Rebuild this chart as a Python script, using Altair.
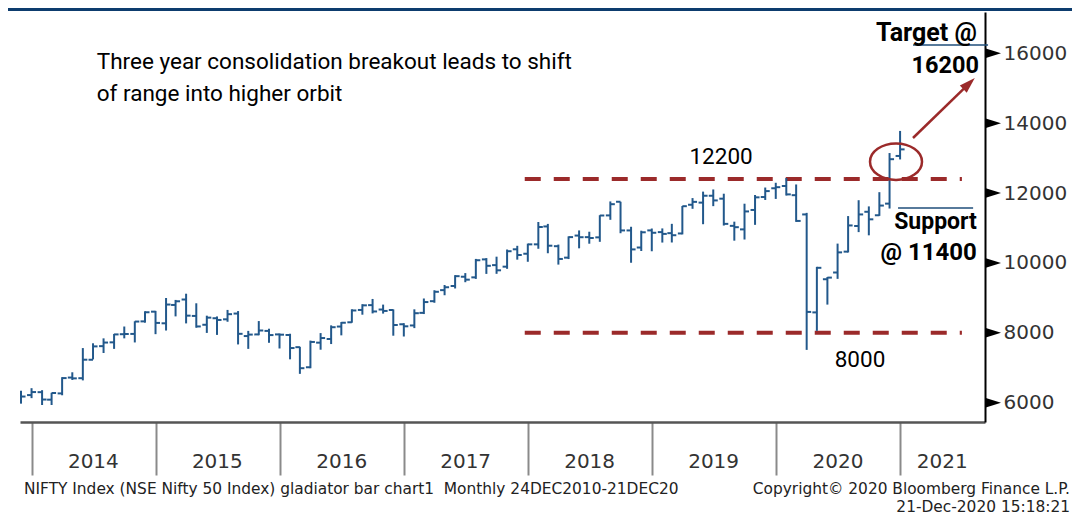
import altair as alt
import pandas as pd

# ---------------- data (NIFTY monthly OHLC, Nov-2013 .. Dec-2020) ----------------
# bars are drawn at the month end (first day of the following month)
month_end = pd.date_range("2013-12-01", periods=86, freq="MS").strftime("%Y-%m-%d").tolist()

open_px = [6299, 6217,
           6301, 6086, 6265, 6719, 6701, 7229, 7618, 7727, 7960, 7968, 8327, 8605,
           8272, 8797, 8953, 8483, 8230, 8417, 8386, 8551, 7907, 7954, 8054, 7954,
           7938, 7589, 7014, 7718, 7822, 8179, 8301, 8654, 8792, 8666, 8653, 8244,
           8210, 8571, 8905, 9221, 9339, 9605, 9587, 10101, 9937, 9893, 10390, 10263,
           10532, 11044, 10479, 10151, 10783, 10738, 10732, 11360, 11751, 10930, 10441, 10931,
           10882, 10852, 10843, 11665, 11726, 11923, 11839, 11061, 10960, 11516, 11886, 12137,
           12202, 11939, 11388, 8584, 9533, 9726, 10323, 11057, 11464, 11364, 11697, 13062]
high_px = [6342, 6415,
           6358, 6283, 6730, 6870, 7563, 7700, 7841, 7968, 8180, 8330, 8617, 8627,
           8996, 8941, 9119, 8845, 8490, 8468, 8655, 8622, 8055, 8336, 8117, 7979,
           7973, 7600, 7777, 7992, 8213, 8308, 8674, 8819, 8969, 8807, 8670, 8275,
           8672, 8982, 9218, 9368, 9650, 9709, 10115, 10138, 10179, 10384, 10490, 10552,
           11171, 11117, 10525, 10760, 10930, 10893, 11366, 11760, 11751, 11035, 10922, 10985,
           10988, 11119, 11630, 11856, 12041, 12103, 11981, 11181, 11695, 11945, 12158, 12294,
           12430, 12246, 11433, 9889, 9598, 10553, 11341, 11795, 11618, 12025, 13145, 13778]
low_px = [5972, 6130,
          5933, 5933, 6212, 6650, 6638, 7239, 7422, 7540, 7841, 7724, 8290, 7961,
          8065, 8470, 8269, 8145, 7997, 7940, 8316, 7667, 7540, 7930, 7714, 7551,
          7241, 6825, 6986, 7516, 7678, 7927, 8288, 8518, 8555, 8550, 7917, 7894,
          8134, 8537, 8860, 9075, 9269, 9448, 9543, 9686, 9688, 9831, 10094, 10033,
          10405, 10277, 9952, 10111, 10418, 10550, 10604, 11234, 10850, 10005, 10341, 10334,
          10583, 10585, 10817, 11549, 11108, 11625, 11070, 10637, 10670, 11090, 11802, 11832,
          11929, 11175, 7511, 8055, 8807, 9544, 10300, 10882, 10790, 11347, 11557, 12962]
close_px = [6176, 6304,
            6090, 6277, 6704, 6696, 7230, 7611, 7721, 7954, 7965, 8322, 8588, 8283,
            8809, 8902, 8491, 8182, 8434, 8368, 8533, 7971, 7949, 8066, 7935, 7946,
            7564, 6987, 7738, 7850, 8160, 8288, 8639, 8786, 8611, 8626, 8224, 8186,
            8561, 8880, 9174, 9304, 9621, 9521, 10077, 9918, 9789, 10335, 10227, 10531,
            11028, 10493, 10114, 10739, 10736, 10714, 11357, 11681, 10930, 10387, 10877, 10863,
            10831, 10793, 11624, 11748, 11923, 11789, 11118, 11023, 11474, 11877, 12056, 12168,
            11962, 11202, 8598, 9860, 9580, 10302, 11073, 11388, 11248, 11642, 12969, 13250]

year_labels = ["2014", "2015", "2016", "2017", "2018", "2019", "2020", "2021"]
year_label_at = ["2014-07-02", "2015-07-02", "2016-07-02", "2017-07-02",
                 "2018-07-02", "2019-07-02", "2020-07-02", "2021-05-05"]
year_ticks = list(range(2014, 2022))
y_ticks = list(range(6000, 17001, 1000))
y_major = list(range(6000, 16001, 2000))

range_levels = [12400, 8000]
range_from = "2017-12-23"
range_to = "2021-07-02"

title_text = "Three year consolidation breakout leads to shift\nof range into higher orbit"
footer_left = "NIFTY Index (NSE Nifty 50 Index) gladiator bar chart1\u00a0 Monthly 24DEC2010-21DEC20"
footer_right1 = "Copyright\u00a9 2020 Bloomberg Finance L.P."
footer_right2 = "21-Dec-2020 15:18:21"

# ---------------- styling ----------------
BLUE = "#22588b"
RED = "#9b2a2a"
NAVY = "#0d3c6e"
NARROW = "Roboto, Liberation Sans Narrow, sans-serif"
VERD = "DejaVu Sans"
W, H = 965, 410

ohlc = pd.DataFrame({"date": month_end, "open": open_px, "high": high_px,
                     "low": low_px, "close": close_px})

xs = alt.Scale(type="utc", domain=[alt.DateTime(year=2013, month=11, date=28, utc=True),
                                   alt.DateTime(year=2021, month=9, date=8, utc=True)])
ys = alt.Scale(domain=[5447, 17182], nice=False, zero=False)

x_axis = alt.Axis(values=[alt.DateTime(year=y, month=1, date=1, utc=True) for y in year_ticks],
                  labels=False, tickSize=53, tickColor="#8a8a8a", tickWidth=2,
                  domainColor="#555555", domainWidth=2.5, grid=False, title=None)
y_axis = alt.Axis(orient="right", values=y_ticks,
                  labelExpr="datum.value % 2000 === 0 ? format(datum.value, 'd') : ''",
                  tickSize=7, tickColor="#000000", tickWidth=1.5,
                  domainColor="#000000", domainWidth=2,
                  labelFont=VERD, labelFontSize=20, labelColor="#333333",
                  labelPadding=11, grid=False, title=None)

base = alt.Chart(ohlc)
hl = base.mark_rule(color=BLUE, strokeWidth=2, clip=True).encode(
    x=alt.X("date:T", scale=xs, axis=x_axis),
    y=alt.Y("low:Q", scale=ys, axis=y_axis),
    y2="high:Q")
op = base.mark_rule(color=BLUE, strokeWidth=2, xOffset=-4.5, x2Offset=0, clip=True).encode(
    x="date:T", x2="date:T", y="open:Q")
cl = base.mark_rule(color=BLUE, strokeWidth=2, xOffset=0, x2Offset=4.5, clip=True).encode(
    x="date:T", x2="date:T", y="close:Q")

# triangles at the major ticks of the right axis
tri = alt.Chart(pd.DataFrame({"v": y_major})).mark_point(
    shape="M -1 -0.62 L 1 0 L -1 0.62 Z", filled=True, color="#000000",
    size=256, opacity=1).encode(x=alt.value(W + 8), y=alt.Y("v:Q", scale=ys))

# dashed range lines
rng = alt.Chart(pd.DataFrame({"level": range_levels,
                              "s": [range_from] * 2, "e": [range_to] * 2})).mark_rule(
    color=RED, strokeWidth=4, strokeDash=[16, 13]).encode(
    x="s:T", x2="e:T", y="level:Q")

# ellipse around breakout
ell = alt.Chart(pd.DataFrame({"d": ["2020-12-20"], "v": [12898]})).mark_point(
    shape="M -1 0 A 1 0.7 0 1 1 1 0 A 1 0.7 0 1 1 -1 0 Z", size=2704, filled=False,
    stroke=RED, strokeWidth=2.5, opacity=1).encode(x="d:T", y="v:Q")

# arrow
arr = alt.Chart(pd.DataFrame({"d1": ["2021-02-08"], "v1": [13576],
                              "d2": ["2021-07-23"], "v2": [15133]})).mark_rule(
    color=RED, strokeWidth=2.5).encode(x="d1:T", y="v1:Q", x2="d2:T", y2="v2:Q")
head = alt.Chart(pd.DataFrame({"d": ["2021-07-23"], "v": [15133]})).mark_point(
    shape="M 0 -1 L 0.62 1 L -0.62 1 Z", size=256, angle=46, filled=True,
    color=RED, opacity=1).encode(x="d:T", y="v:Q")

# thin blue lines near annotations
blines = alt.Chart(pd.DataFrame({"s": ["2021-02-08", "2020-12-26"],
                                 "e": ["2021-09-17", "2021-08-04"],
                                 "v": [16238, 11572]})).mark_rule(
    color="#1f4e7a", strokeWidth=1.5).encode(x="s:T", x2="e:T", y="v:Q")


def txt(text, d, v, size, bold=False, align="left", font=NARROW, color="#000000", lh=None):
    kw = dict(text=text, align=align, baseline="middle", font=font, fontSize=size,
              fontWeight="bold" if bold else "normal", color=color)
    if lh:
        kw["lineBreak"] = "\n"
        kw["lineHeight"] = lh
    return alt.Chart(pd.DataFrame({"d": [d], "v": [v]})).mark_text(**kw).encode(
        x="d:T", y="v:Q")


t_title = txt(title_text, "2014-07-12", 15751, 22.5, lh=32)
t_12200 = txt("12200", "2019-07-24", 13032, 22.5, align="center")
t_8000 = txt("8000", "2020-09-05", 7222, 22.5, align="center")
t_target = txt("Target @", "2021-08-15", 16581, 25, bold=True, align="right")
t_16200 = txt("16200", "2021-08-21", 15636, 23.5, bold=True, align="right")
t_support = txt("Support", "2021-08-15", 11163, 23, bold=True, align="right")
t_11400 = txt("@ 11400", "2021-08-15", 10284, 24, bold=True, align="right")

# year labels under the axis
yl = alt.Chart(pd.DataFrame({"lab": year_labels, "d": year_label_at})).mark_text(
    font=VERD, fontSize=20, color="#333333", baseline="middle", align="center").encode(
    x="d:T", y=alt.value(H + 40), text="lab:N")

# footer
FS = 15.4
f1 = alt.Chart(pd.DataFrame({"t": [footer_left]})).mark_text(
    font=VERD, fontSize=FS, color="#222222", align="left", baseline="middle").encode(
    x=alt.value(4), y=alt.value(H + 67), text="t:N")
f2 = alt.Chart(pd.DataFrame({"t": [footer_right1]})).mark_text(
    font=VERD, fontSize=FS, color="#222222", align="right", baseline="middle").encode(
    x=alt.value(1050), y=alt.value(H + 67), text="t:N")
f3 = alt.Chart(pd.DataFrame({"t": [footer_right2]})).mark_text(
    font=VERD, fontSize=FS, color="#222222", align="right", baseline="middle").encode(
    x=alt.value(1050), y=alt.value(H + 85), text="t:N")

# top navy band
band = alt.Chart(pd.DataFrame({"a": [0]})).mark_rect(color=NAVY).encode(
    x=alt.value(-12), x2=alt.value(1052), y=alt.value(-4), y2=alt.value(-1))

chart = alt.layer(
    rng, hl, op, cl, tri, ell, arr, head, blines,
    t_title, t_12200, t_8000, t_target, t_16200, t_support, t_11400,
    yl, f1, f2, f3, band
).properties(
    width=W, height=H,
    autosize=alt.AutoSizeParams(type="none"),
    padding={"left": 12, "top": 4, "right": 87, "bottom": 100},
    background="white"
).configure_view(strokeWidth=0)

chart.save("out.html", embed_options={"renderer": "svg", "actions": False})
